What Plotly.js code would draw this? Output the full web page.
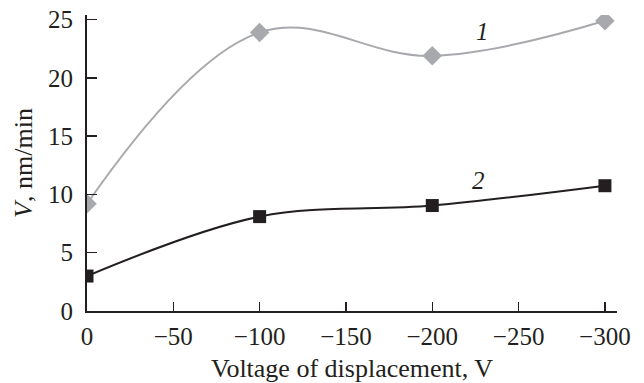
<!DOCTYPE html>
<html><head><meta charset="utf-8">
<script src="https://cdn.plot.ly/plotly-3.0.1.min.js"></script>
<style>body{margin:0;background:#fff}#c{width:644px;height:383px}</style>
</head><body><div id="c"></div>
<script>
const voltage = [0, -100, -200, -300];
const rate1 = [9.2, 23.9, 21.9, 24.9];
const rate2 = [3.0, 8.1, 9.05, 10.75];
const xTicks = [0, -50, -100, -150, -200, -250, -300];
const yTicks = [0, 5, 10, 15, 20, 25];
const curveLabels = ['1', '2'];
const labelPos = [[-229, 24.0], [-227, 11.2]];

const font = {family: 'Liberation Serif, Times New Roman, serif', size: 25, color: '#231f20'};
const titleFont = {family: font.family, size: 26, color: '#231f20'};
const data = [
  {x: voltage, y: rate1, mode: 'lines+markers', line: {shape: 'spline', smoothing: 1.1, color: '#a7a9ac', width: 2},
   marker: {symbol: 'diamond', size: 15, color: '#a7a9ac'}},
  {x: voltage, y: rate2, mode: 'lines+markers', line: {shape: 'spline', smoothing: 1, color: '#231f20', width: 2},
   marker: {symbol: 'square', size: 13, color: '#231f20'}}
];
const layout = {
  width: 644, height: 383, showlegend: false,
  margin: {l: 87, r: 27, t: 15, b: 71.5},
  paper_bgcolor: '#fff', plot_bgcolor: '#fff', font: font,
  xaxis: {range: [0, -307], tickvals: xTicks, ticks: 'inside', ticklen: 9, tickwidth: 1.5, tickcolor: '#231f20',
    showline: true, linewidth: 2, linecolor: '#231f20', showgrid: false, zeroline: false, tickfont: font,
    ticklabelstandoff: 2,
    title: {text: 'Voltage of displacement, V', font: titleFont, standoff: 10}},
  yaxis: {range: [0, 25.4], tickvals: yTicks, ticks: 'inside', ticklen: 10, tickwidth: 1.5, tickcolor: '#231f20',
    showline: true, linewidth: 2, linecolor: '#231f20', showgrid: false, zeroline: false, tickfont: font,
    ticklabelstandoff: 7,
    title: {text: '<i>V</i>, nm/min', font: titleFont, standoff: 8}},
  annotations: curveLabels.map((t, i) => ({x: labelPos[i][0], y: labelPos[i][1], text: '<i>' + t + '</i>', showarrow: false,
    font: {family: font.family, size: 25, color: '#231f20'}}))
};
Plotly.newPlot('c', data, layout, {displayModeBar: false, staticPlot: true});
</script></body></html>
